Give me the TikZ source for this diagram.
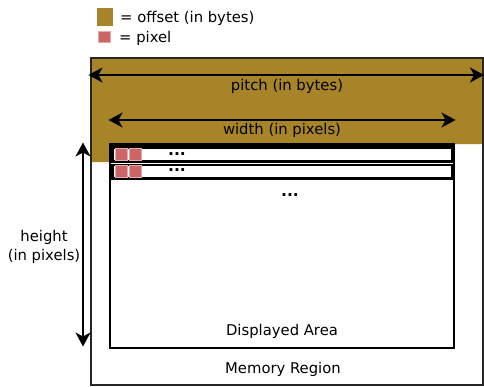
\documentclass[tikz,border=0pt]{standalone}
\usepackage{fontspec}
\setmainfont{DejaVu Sans}
\usetikzlibrary{arrows.meta}
\definecolor{offsetbrown}{RGB}{168,132,40}
\definecolor{pixelpink}{RGB}{204,102,102}
\definecolor{pixeledge}{RGB}{230,170,170}
\tikzset{
  txt/.style={font=\fontsize{14.8pt}{19pt}\selectfont, inner sep=0pt},
  dots/.style={font=\fontsize{15.5pt}{17pt}\bfseries, inner sep=0pt, anchor=base},
  pix/.style={fill=pixelpink, draw=pixeledge, line width=0.8pt},
  tip/.style={Stealth[length=14pt,width=15pt,inset=4pt]},
  dimarrow/.style={line width=2pt, {Stealth[length=14pt,width=15pt,inset=4pt]}-{Stealth[length=14pt,width=15pt,inset=4pt]}},
  rowbox/.style={draw=black, line width=2.2pt, fill=white},
}
\begin{document}
\begin{tikzpicture}[x=1pt,y=-1pt]
\useasboundingbox (0,0) rectangle (484,386);
% memory region background offset
\fill[offsetbrown] (91,58) -- (483,58) -- (483,144) -- (110,144) -- (110,162) -- (91,162) -- cycle;
\draw[black!85, line width=1.4pt] (91,58) rectangle (483,385);
% displayed area
\draw[black, line width=2.2pt, fill=white] (110,144.5) rectangle (454,348);
\draw[rowbox] (112.5,147.5) rectangle (452.5,161.5);
\draw[rowbox] (112.5,165) rectangle (452.5,178.5);
% pixels
\node[pix, minimum width=12pt, minimum height=12pt, inner sep=0pt] (p11) at (121,154.3) {};
\node[pix, minimum width=12pt, minimum height=12pt, inner sep=0pt] (p12) at (135,154.3) {};
\node[pix, minimum width=12pt, minimum height=12pt, inner sep=0pt] (p21) at (121,171.8) {};
\node[pix, minimum width=12pt, minimum height=12pt, inner sep=0pt] (p22) at (135,171.8) {};
\node[dots] (d1) at (177,155.5) {...};
\node[dots] (d2) at (177,171.5) {...};
\node[dots] (d3) at (290,196.5) {...};
% dimension arrows
\coordinate (pl) at (88.5,75);
\coordinate (pr) at (484,75);
\draw[dimarrow] (pl) -- (pr);
\node[txt] (pitch) at (287,86.5) {pitch (in bytes)};
\coordinate (wl) at (108.5,120);
\coordinate (wr) at (455.5,120);
\draw[dimarrow] (wl) -- (wr);
\node[txt] (width) at (282,130.5) {width (in pixels)};
\coordinate (ht) at (83,142.5);
\coordinate (hb) at (83,346.5);
\draw[dimarrow] (ht) -- (hb);
\node[txt, align=center] (height) at (44,247) {height\\(in pixels)};
% labels
\node[txt] (disp) at (282,331.5) {Displayed Area};
\node[txt] (mem) at (283,369.5) {Memory Region};
% legend
\node[fill=offsetbrown, minimum width=16pt, minimum height=18pt, inner sep=0pt] (lo) at (105,17) {};
\node[txt, anchor=west] (lot) at (120,18) {= offset (in bytes)};
\node[pix, minimum width=12pt, minimum height=11pt, inner sep=0pt] (lp) at (104,37) {};
\node[txt, anchor=west] (lpt) at (119,38) {= pixel};
\end{tikzpicture}
\end{document}
